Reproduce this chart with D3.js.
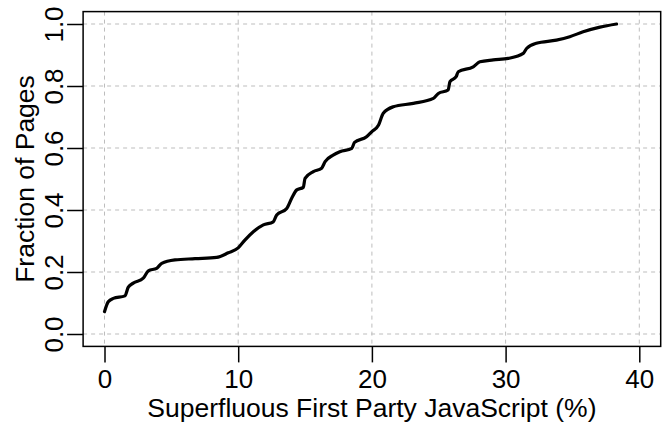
<!DOCTYPE html>
<html>
<head>
<meta charset="utf-8">
<script src="https://cdn.jsdelivr.net/npm/d3@7"></script>
<style>
  body { margin: 0; background: #fff; }
  svg text { font-family: "Liberation Sans", Arial, sans-serif; fill: #000; }
</style>
</head>
<body>
<div id="chart"></div>
<script>
// CDF of superfluous first party JS (%)
const jsPercent = [0, 0.28, 0.66, 1.53, 1.78, 2.15, 2.9, 3.28, 3.9, 4.28, 5.27, 6.77, 8.39, 9.26, 10.0, 10.5,
  11.13, 11.88, 12.62, 12.88, 13.63, 14.0, 14.38, 14.87, 15.0, 15.62, 16.24, 16.5, 17.1, 17.6, 18.5, 18.7,
  19.6, 20.0, 20.5, 20.85, 21.6, 23.1, 24.6, 24.97, 25.7, 25.84, 26.3, 26.46, 27.58, 28.08, 29.08, 30.2,
  31.32, 31.57, 32.3, 33.8, 34.8, 35.8, 37.06, 38.3];
const fraction = [0.072, 0.104, 0.115, 0.123, 0.151, 0.164, 0.18, 0.204, 0.212, 0.228, 0.239, 0.243, 0.247, 0.262, 0.278, 0.303,
  0.33, 0.352, 0.362, 0.384, 0.405, 0.438, 0.465, 0.473, 0.502, 0.524, 0.535, 0.556, 0.577, 0.588, 0.599, 0.618,
  0.636, 0.653, 0.674, 0.712, 0.733, 0.744, 0.76, 0.776, 0.787, 0.814, 0.83, 0.846, 0.862, 0.878, 0.884, 0.889,
  0.905, 0.921, 0.938, 0.948, 0.959, 0.975, 0.99, 1.0];
const xTicks = [0, 10, 20, 30, 40];
const yTicks = [0, 0.2, 0.4, 0.6, 0.8, 1.0];

const w = 670;
const h = 425;
const fontSize = "26px";
const data = jsPercent.map((d, i) => [d, fraction[i]]);

const xScale = d3.scaleLinear().domain([0, 40]).range([104.5, 639.3]);
const yScale = d3.scaleLinear().domain([0, 1]).range([334, 24]);

// R style 4% padding around the data range
const boxL = xScale(-1.6), boxR = xScale(41.6);
const boxT = yScale(1.04), boxB = yScale(-0.04);

const svg = d3.select("#chart").append("svg")
  .attr("width", w)
  .attr("height", h);

// dashed grid
svg.append("g").selectAll("line")
  .data(xTicks).enter().append("line")
  .attr("x1", d => xScale(d)).attr("x2", d => xScale(d))
  .attr("y1", boxT).attr("y2", boxB)
  .attr("stroke", "#bdbdbd").attr("stroke-width", 1).attr("stroke-dasharray", "4,4");
svg.append("g").selectAll("line")
  .data(yTicks).enter().append("line")
  .attr("x1", boxL).attr("x2", boxR)
  .attr("y1", d => yScale(d)).attr("y2", d => yScale(d))
  .attr("stroke", "#bdbdbd").attr("stroke-width", 1).attr("stroke-dasharray", "4,4");

// curve
const line = d3.line()
  .x(d => xScale(d[0]))
  .y(d => yScale(d[1]))
  .curve(d3.curveMonotoneX);
svg.append("path")
  .datum(data)
  .attr("d", line)
  .attr("fill", "none")
  .attr("stroke", "#000")
  .attr("stroke-width", 3.2)
  .attr("stroke-linecap", "round")
  .attr("stroke-linejoin", "round");

// axes
const xAxis = d3.axisBottom(xScale).tickValues(xTicks).tickSize(16).tickSizeOuter(0).tickPadding(7);
const gx = svg.append("g")
  .attr("transform", "translate(0," + boxB + ")")
  .call(xAxis);
gx.select(".domain").remove();
gx.selectAll("line").attr("stroke", "#000").attr("stroke-width", 1.5);
gx.selectAll("text").style("font-size", fontSize);

const yAxis = d3.axisLeft(yScale).tickValues(yTicks).tickSize(16).tickSizeOuter(0).tickFormat(d3.format(".1f"));
const gy = svg.append("g")
  .attr("transform", "translate(" + boxL + ",0)")
  .call(yAxis);
gy.select(".domain").remove();
gy.selectAll("line").attr("stroke", "#000").attr("stroke-width", 1.5);
gy.selectAll("text")
  .attr("x", 0).attr("dy", null)
  .attr("transform", "translate(-20,0) rotate(-90)")
  .attr("text-anchor", "middle")
  .style("font-size", fontSize);

// box
svg.append("rect")
  .attr("x", boxL).attr("y", boxT)
  .attr("width", boxR - boxL).attr("height", boxB - boxT)
  .attr("fill", "none").attr("stroke", "#000").attr("stroke-width", 1.5);

// titles
svg.append("text")
  .attr("x", (boxL + boxR) / 2).attr("y", 417)
  .attr("text-anchor", "middle")
  .style("font-size", "26.5px")
  .text("Superfluous First Party JavaScript (%)");
svg.append("text")
  .attr("transform", "translate(34," + ((boxT + boxB) / 2) + ") rotate(-90)")
  .attr("text-anchor", "middle")
  .style("font-size", "26.5px")
  .text("Fraction of Pages");
</script>
</body>
</html>
